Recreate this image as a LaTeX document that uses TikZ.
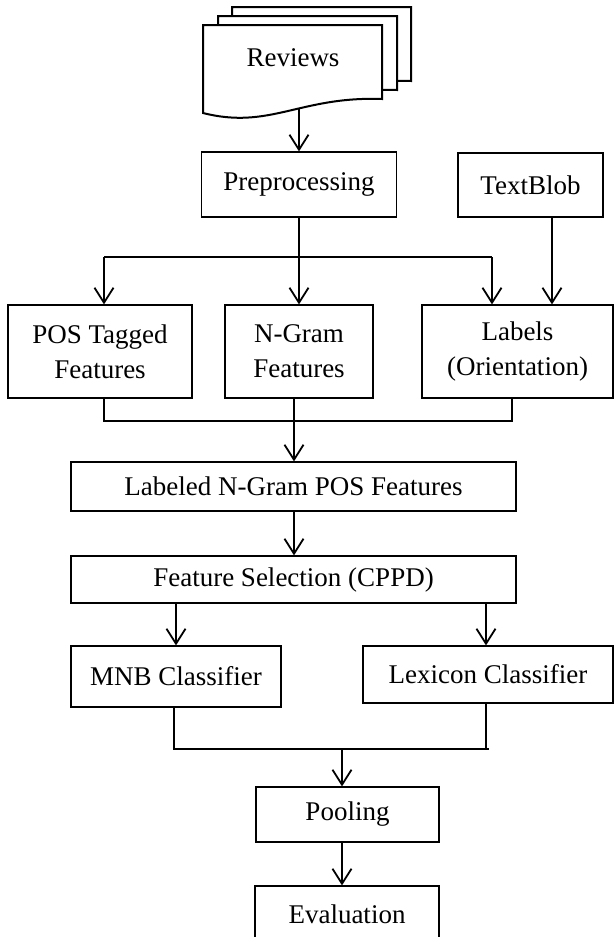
\documentclass[tikz,border=0pt]{standalone}
\usepackage{fontspec}
\setmainfont{Liberation Serif}
\usetikzlibrary{arrows.meta}
\begin{document}
\begin{tikzpicture}[x=1pt,y=-1pt,
  txt/.style={font=\fontsize{27}{35}\selectfont},
  box/.style={draw, line width=1.2pt, inner sep=0pt, align=center, txt},
  conn/.style={line width=1.8pt},
  arr/.style={conn, -{Straight Barb[length=15pt,width=19pt]}},
  doc/.style={draw, line width=2pt, fill=white, line join=miter}]
\useasboundingbox (0,0) rectangle (615,937);
% Reviews (multi-document)
\foreach \dx/\dy in {29/-18, 15/-9, 0/0} {
  \draw[doc, shift={(\dx,\dy)}] (203,25) -- (382,25) -- (382,99)
     .. controls (300,96) and (270,130) .. (203,113) -- cycle;
}
\node[txt] (reviews) at (293,58) {Reviews};
\coordinate (revbot) at (299,109);
% boxes
\node[box, minimum width=195pt, minimum height=65pt] (prep) at (299,184.5) {Preprocessing};
\node[box, minimum width=145pt, minimum height=64pt] (blob) at (530.5,185) {TextBlob};
\node[box, minimum width=184pt, minimum height=93pt] (pos) at (100,351.5) {POS Tagged\\Features};
\node[box, minimum width=148pt, minimum height=93pt] (ngram) at (299,351.5) {N-Gram\\Features};
\node[box, minimum width=191pt, minimum height=93pt] (labels) at (517.5,351.5) {Labels\\(Orientation)};
\node[box, minimum width=445pt, minimum height=49pt] (lab) at (293.5,486.5) {Labeled N-Gram POS Features};
\node[box, minimum width=445pt, minimum height=47pt] (fs) at (293.5,579.5) {Feature Selection (CPPD)};
\node[box, minimum width=210pt, minimum height=61pt] (mnb) at (176,676.5) {MNB Classifier};
\node[box, minimum width=250pt, minimum height=57pt] (lex) at (488,674.5) {Lexicon Classifier};
\node[box, minimum width=183pt, minimum height=55pt] (pool) at (347.5,814.5) {Pooling};
\node[box, minimum width=184pt, minimum height=56pt] (eval) at (347,914) {Evaluation};
% helper coordinates
\coordinate (dl) at (104,257);
\coordinate (dr) at (492,257);
\coordinate (tb) at (552,0);
\coordinate (jl) at (104,421);
\coordinate (jr) at (512,421);
\coordinate (jm) at (294,421);
\coordinate (kl) at (174,749);
\coordinate (kr) at (489,749);
\coordinate (kx) at (486,749);
\coordinate (km) at (342,749);
% connectors
\draw[arr] (revbot) -- (revbot |- prep.north);
\draw[arr] (prep.south) -- (ngram.north);
\draw[conn] (dl) -- (dr);
\draw[arr] (dl) -- (dl |- pos.north);
\draw[arr] (dr) -- (dr |- labels.north);
\draw[arr] (blob.south -| tb) -- (labels.north -| tb);
\draw[conn] (pos.south -| jl) -- (jl) -- (jr) -- (labels.south -| jr);
\draw[conn] (ngram.south -| jm) -- (jm);
\draw[arr] (jm) -- (lab.north -| jm);
\draw[arr] (lab.south -| jm) -- (fs.north -| jm);
\draw[arr] (fs.south -| mnb) -- (mnb.north);
\draw[arr] (fs.south -| kx) -- (lex.north -| kx);
\draw[conn] (mnb.south -| kl) -- (kl) -- (kr);
\draw[conn] (lex.south -| kx) -- (kx);
\draw[arr] (km) -- (pool.north -| km);
\draw[arr] (pool.south -| km) -- (eval.north -| km);
\end{tikzpicture}
\end{document}
